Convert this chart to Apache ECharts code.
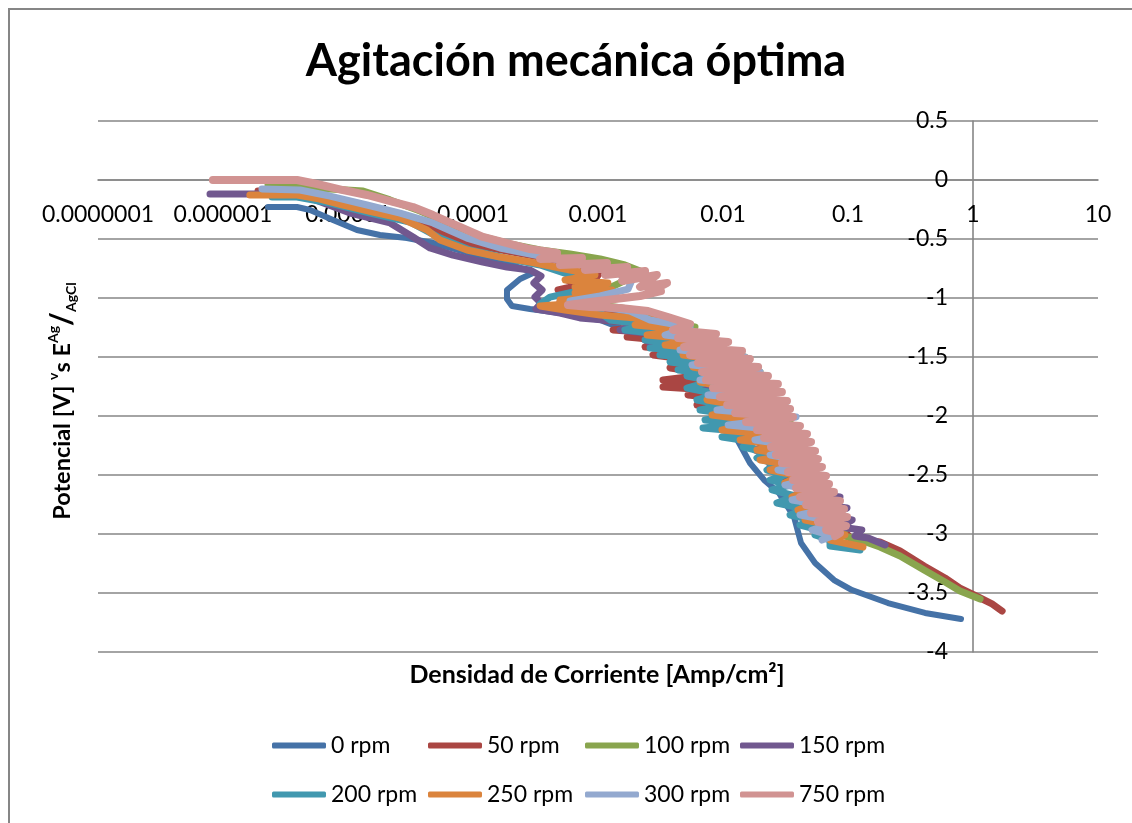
<!DOCTYPE html>
<html>
<head>
<meta charset="utf-8">
<title>Agitación mecánica óptima</title>
<script src="https://cdn.jsdelivr.net/npm/echarts@6/dist/echarts.min.js"></script>
<style>
  html, body { margin: 0; padding: 0; background: #ffffff; }
  #chart { width: 1132px; height: 823px; }
</style>
</head>
<body>
<div id="chart"></div>
<script>
// Polarization curves: [current density (A/cm²), potential (V vs Ag/AgCl)]
const seriesNames = ['0 rpm', '50 rpm', '100 rpm', '150 rpm', '200 rpm', '250 rpm', '300 rpm', '750 rpm'];

const rpm0 = [[2.29e-6,-0.229],[3.91e-6,-0.229],[4.97e-6,-0.254],[7.59e-6,-0.339],[1.18e-5,-0.424],[1.80e-5,-0.466],[2.96e-5,-0.492],[4.79e-5,-0.534],[8.63e-5,-0.610],[1.64e-4,-0.686],[2.70e-4,-0.763],[3.02e-4,-0.788],[2.38e-4,-0.839],[1.87e-4,-0.932],[1.87e-4,-1.008],[2.05e-4,-1.068],[2.86e-4,-1.093],[4.97e-4,-1.127],[1.04e-3,-1.186],[1.91e-3,-1.297],[3.13e-3,-1.441],[4.97e-3,-1.627],[7.31e-3,-1.839],[1.18e-2,-2.119],[1.644e-2,-2.398],[2.13e-2,-2.542],[2.81e-2,-2.653],[3.70e-2,-2.856],[4.21e-2,-3.076],[5.45e-2,-3.246],[7.73e-2,-3.390],[0.1076,-3.475],[0.209,-3.585],[0.413,-3.669],[0.802,-3.720]];

const rpm50 = [[1.905e-6,-0.093],[4.13e-6,-0.102],[7.87e-6,-0.153],[1.50e-5,-0.229],[2.86e-5,-0.314],[5.45e-5,-0.441],[9.46e-5,-0.542],[1.87e-4,-0.602],[3.77e-4,-0.661],[7.18e-4,-0.720],[1.04e-3,-0.780],[9.46e-4,-0.847],[5.65e-4,-0.847],[7.18e-4,-0.890],[4.79e-4,-0.932],[6.55e-4,-0.975],[4.97e-4,-1.034],[6.55e-4,-1.085],
  [8.63e-4,-1.119],[2.17e-3,-1.153],[1.10e-3,-1.186],[3.13e-3,-1.229],[1.32e-3,-1.271],[3.77e-3,-1.305],[1.71e-3,-1.331],[4.53e-3,-1.373],[2.38e-3,-1.415],[5.45e-3,-1.449],[2.75e-3,-1.483],[6.55e-3,-1.534],[3.77e-3,-1.593],[8.17e-3,-1.644],[3.31e-3,-1.695],[9.46e-3,-1.720],[3.31e-3,-1.754],[1.04e-2,-1.788],[5.25e-3,-1.822],[1.25e-2,-1.864],[6.19e-3,-1.907],[1.50e-2,-1.966],[8.63e-3,-2.034],[1.98e-2,-2.093],[1.25e-2,-2.161],[2.61e-2,-2.220],[1.80e-2,-2.288],[3.44e-2,-2.347],[2.38e-2,-2.415],[4.13e-2,-2.475],[3.13e-2,-2.542],[5.45e-2,-2.602],[3.77e-2,-2.669],[6.55e-2,-2.729],[4.97e-2,-2.797],[7.87e-2,-2.856],[6.55e-2,-2.924],[9.46e-2,-2.975],[0.104,-3.034],[0.150,-3.059],
  [0.180,-3.068],[0.261,-3.144],[0.406,-3.271],[0.597,-3.373],[0.787,-3.458],[1.10,-3.534],[1.42,-3.593],[1.71,-3.653]];

const rpm100 = [[2.29e-6,-0.042],[3.91e-6,-0.051],[7.18e-6,-0.076],[1.32e-5,-0.093],[2.17e-5,-0.169],[3.77e-5,-0.263],[6.55e-5,-0.373],[1.14e-4,-0.475],[1.98e-4,-0.542],[3.44e-4,-0.593],[5.97e-4,-0.627],[1.04e-3,-0.669],[1.64e-3,-0.720],[2.17e-3,-0.771],[1.56e-3,-0.864],[1.14e-3,-0.932],[7.18e-4,-1.000],[1.04e-3,-1.059],[2.61e-3,-1.119],
  [2.61e-3,-1.186],[5.97e-3,-1.246],[3.77e-3,-1.314],[9.46e-3,-1.373],[4.97e-3,-1.441],[1.50e-2,-1.500],[5.97e-3,-1.568],[1.98e-2,-1.627],[7.18e-3,-1.695],[2.61e-2,-1.771],[8.63e-3,-1.847],[3.13e-2,-1.915],[1.14e-2,-1.992],[3.44e-2,-2.051],[1.64e-2,-2.119],[4.13e-2,-2.178],[2.17e-2,-2.246],[4.79e-2,-2.305],[2.75e-2,-2.373],[5.45e-2,-2.432],[3.44e-2,-2.500],[6.19e-2,-2.559],[4.13e-2,-2.627],[7.18e-2,-2.686],[4.79e-2,-2.754],[8.63e-2,-2.814],[5.97e-2,-2.881],[0.100,-2.941],[8.63e-2,-3.008],[0.125,-3.051],
  [0.180,-3.110],[0.261,-3.186],[0.406,-3.305],[0.597,-3.407],[0.787,-3.483],[1.14,-3.551]];

const rpm150 = [[7.87e-7,-0.119],[3.25e-6,-0.119],[4.97e-6,-0.153],[1.04e-5,-0.280],[2.17e-5,-0.364],[3.31e-5,-0.483],[4.53e-5,-0.576],[6.92e-5,-0.636],[1.20e-4,-0.695],[1.87e-4,-0.737],[2.86e-4,-0.763],[3.50e-4,-0.814],[3.07e-4,-0.873],[3.57e-4,-0.932],[3.13e-4,-0.992],[3.50e-4,-1.042],[3.19e-4,-1.093],[4.97e-4,-1.127],
  [7.18e-4,-1.169],[2.17e-3,-1.212],[1.50e-3,-1.271],[4.53e-3,-1.331],[2.61e-3,-1.398],[6.55e-3,-1.458],[4.53e-3,-1.525],[9.46e-3,-1.585],[5.97e-3,-1.653],[1.37e-2,-1.712],[7.18e-3,-1.780],[1.98e-2,-1.839],[8.63e-3,-1.907],[2.61e-2,-1.966],[1.14e-2,-2.034],[3.13e-2,-2.093],[1.50e-2,-2.161],[3.77e-2,-2.220],[1.98e-2,-2.288],[4.53e-2,-2.347],[2.61e-2,-2.415],[5.45e-2,-2.475],[3.44e-2,-2.542],[6.92e-2,-2.585],[4.13e-2,-2.644],[8.63e-2,-2.686],[4.97e-2,-2.737],[9.82e-2,-2.780],[6.55e-2,-2.839],[0.108,-2.881],[8.63e-2,-2.941],[0.129,-2.966],[0.114,-3.017],[0.145,-3.034],[0.198,-3.093]];

const rpm200 = [[2.47e-6,-0.144],[3.91e-6,-0.144],[7.18e-6,-0.195],[1.50e-5,-0.280],[3.13e-5,-0.356],[5.45e-5,-0.492],[9.46e-5,-0.593],[1.80e-4,-0.661],[3.44e-4,-0.720],[5.97e-4,-0.805],[8.63e-4,-0.881],[6.92e-4,-0.941],[4.13e-4,-0.992],[3.44e-4,-1.051],[4.97e-4,-1.085],[1.04e-3,-1.127],
  [1.25e-3,-1.186],[2.61e-3,-1.229],[1.64e-3,-1.271],[3.77e-3,-1.314],[2.38e-3,-1.356],[4.53e-3,-1.390],[2.61e-3,-1.424],[5.45e-3,-1.449],[3.13e-3,-1.483],[5.97e-3,-1.508],[3.77e-3,-1.542],[6.55e-3,-1.576],[4.37e-3,-1.610],[7.18e-3,-1.636],[5.15e-3,-1.661],[8.17e-3,-1.703],[5.15e-3,-1.763],[9.12e-3,-1.814],[6.19e-3,-1.864],[1.04e-2,-1.907],[6.55e-3,-1.949],[1.25e-2,-1.992],[7.18e-3,-2.034],[1.50e-2,-2.068],[6.92e-3,-2.102],[1.585e-2,-2.136],[9.82e-3,-2.178],[1.80e-2,-2.220],[1.45e-2,-2.263],[2.17e-2,-2.305],[1.87e-2,-2.356],[2.61e-2,-2.407],[2.25e-2,-2.458],[3.13e-2,-2.500],[2.38e-2,-2.542],[3.44e-2,-2.585],[2.47e-2,-2.627],[3.77e-2,-2.678],[2.70e-2,-2.737],[4.53e-2,-2.788],[3.44e-2,-2.839],[5.15e-2,-2.881],[4.13e-2,-2.924],[5.97e-2,-2.966],[5.45e-2,-3.008],[7.18e-2,-3.051],[7.18e-2,-3.102],[0.125,-3.136]];

const rpm250 = [[1.64e-6,-0.127],[3.91e-6,-0.127],[5.97e-6,-0.161],[9.12e-6,-0.212],[1.585e-5,-0.271],[2.61e-5,-0.322],[4.29e-5,-0.424],[5.45e-5,-0.508],[8.95e-5,-0.593],[1.64e-4,-0.653],[2.86e-4,-0.695],[4.97e-4,-0.746],[9.46e-4,-0.805],[5.45e-4,-0.847],[1.20e-3,-0.873],[6.55e-4,-0.907],[1.29e-3,-0.932],[6.55e-4,-0.958],[1.04e-3,-0.983],[4.97e-4,-1.017],[7.18e-4,-1.042],[3.44e-4,-1.068],[5.45e-4,-1.102],
  [1.04e-3,-1.144],[3.13e-3,-1.186],[1.98e-3,-1.229],[5.45e-3,-1.271],[2.47e-3,-1.314],[6.55e-3,-1.356],[3.44e-3,-1.398],[8.63e-3,-1.441],[4.79e-3,-1.483],[1.04e-2,-1.534],[5.75e-3,-1.585],[1.25e-2,-1.653],[6.55e-3,-1.712],[1.50e-2,-1.788],[7.45e-3,-1.864],[1.80e-2,-1.932],[8.17e-3,-1.992],[2.17e-2,-2.051],[9.82e-3,-2.119],[2.61e-2,-2.161],[1.37e-2,-2.203],[2.96e-2,-2.246],[1.87e-2,-2.288],[3.44e-2,-2.331],[1.98e-2,-2.373],[3.77e-2,-2.415],[2.38e-2,-2.458],[4.13e-2,-2.508],[3.13e-2,-2.568],[4.79e-2,-2.627],[3.57e-2,-2.686],[5.45e-2,-2.737],[3.98e-2,-2.797],[6.19e-2,-2.839],[4.53e-2,-2.881],[7.18e-2,-2.924],[5.45e-2,-2.966],[9.46e-2,-3.008],[7.18e-2,-3.051],[0.1318,-3.110]];

const rpm300 = [[2.05e-6,-0.076],[4.13e-6,-0.085],[7.18e-6,-0.136],[1.42e-5,-0.212],[2.61e-5,-0.280],[4.79e-5,-0.364],[8.95e-5,-0.492],[1.64e-4,-0.576],[3.44e-4,-0.644],[7.18e-4,-0.712],[1.37e-3,-0.780],[1.87e-3,-0.847],[1.74e-3,-0.924],[1.04e-3,-0.983],[5.97e-4,-1.025],[9.46e-4,-1.068],[1.80e-3,-1.110],
  [2.61e-3,-1.186],[5.45e-3,-1.246],[3.44e-3,-1.314],[1.04e-2,-1.373],[4.53e-3,-1.441],[1.50e-2,-1.500],[5.65e-3,-1.568],[1.98e-2,-1.627],[6.55e-3,-1.695],[2.61e-2,-1.754],[7.59e-3,-1.822],[3.19e-2,-1.881],[8.95e-3,-1.949],[3.84e-2,-2.008],[1.10e-2,-2.076],[4.06e-2,-2.136],[1.80e-2,-2.203],[4.45e-2,-2.263],[2.38e-2,-2.331],[5.15e-2,-2.390],[2.75e-2,-2.458],[5.75e-2,-2.517],[3.13e-2,-2.585],[6.67e-2,-2.644],[3.57e-2,-2.712],[7.87e-2,-2.771],[4.13e-2,-2.839],[8.32e-2,-2.898],[5.15e-2,-2.966],[7.45e-2,-3.017],[6.19e-2,-3.051]];

const rpm750 = [[8.3e-7,0],[3.91e-6,0],[5.65e-6,-0.034],[9.12e-6,-0.085],[1.42e-5,-0.127],[2.29e-5,-0.186],[3.31e-5,-0.229],[4.79e-5,-0.297],[7.87e-5,-0.398],[1.20e-4,-0.483],[1.87e-4,-0.534],[2.86e-4,-0.585],[4.70e-4,-0.619],[3.44e-4,-0.669],[7.45e-4,-0.661],[4.97e-4,-0.720],[1.18e-3,-0.703],[7.87e-4,-0.763],[1.71e-3,-0.737],[1.14e-3,-0.805],[2.38e-3,-0.771],[1.56e-3,-0.856],[2.96e-3,-0.805],[2.17e-3,-0.907],[3.57e-3,-0.873],[2.51e-3,-0.958],[3.19e-3,-0.941],[2.17e-3,-0.983],[1.37e-3,-1.008],[8.63e-4,-1.034],[5.75e-4,-1.059],[8.63e-4,-1.076],[1.50e-3,-1.085],[2.51e-3,-1.110],[3.63e-3,-1.161],[5.45e-3,-1.220],
  [3.98e-3,-1.271],[8.79e-3,-1.305],[4.37e-3,-1.339],[1.10e-2,-1.373],[4.88e-3,-1.415],[1.42e-2,-1.449],[5.45e-3,-1.483],[1.64e-2,-1.517],[6.31e-3,-1.551],[1.91e-2,-1.585],[6.79e-3,-1.627],[2.29e-2,-1.661],[7.31e-3,-1.695],[2.75e-2,-1.729],[8.32e-3,-1.763],[2.96e-2,-1.797],[9.46e-3,-1.839],[3.25e-2,-1.873],[1.08e-2,-1.907],[3.44e-2,-1.941],[1.25e-2,-1.975],[3.63e-2,-2.008],[1.53e-2,-2.051],[4.13e-2,-2.085],[1.87e-2,-2.119],[4.70e-2,-2.153],[2.13e-2,-2.186],[5.06e-2,-2.220],[2.42e-2,-2.263],[5.45e-2,-2.297],[2.65e-2,-2.331],[5.75e-2,-2.364],[2.96e-2,-2.398],[6.19e-2,-2.432],[3.31e-2,-2.475],[6.67e-2,-2.508],[3.63e-2,-2.542],[7.05e-2,-2.576],[3.84e-2,-2.610],[7.72e-2,-2.644],[4.13e-2,-2.686],[8.63e-2,-2.720],[4.62e-2,-2.754],[9.29e-2,-2.788],[5.06e-2,-2.822],[9.82e-2,-2.856],[5.75e-2,-2.898],[9.64e-2,-2.932],[6.67e-2,-2.966],[8.63e-2,-2.992],[7.87e-2,-3.017]];

const curves = [rpm0, rpm50, rpm100, rpm150, rpm200, rpm250, rpm300, rpm750];

// Office 2007 style series colours and stroke widths
const palette = ['#4572A7', '#AA4643', '#89A54E', '#71588F', '#4198AF', '#DB843D', '#93A9CF', '#D19392'];
const strokeWidths = [6, 7, 7, 7, 7, 7, 7, 8];

const FONT = 'Lato, "Open Sans", "DejaVu Sans", sans-serif';
const GRID_COLOR = '#868686';

// legend cells: two rows of four
const legendCells = [[272, 734], [428, 734], [585, 734], [740, 734],
                     [272, 783], [428, 783], [585, 783], [740, 783]];

function formatCurrent(v) {
  const e = Math.round(Math.log10(v));
  return e < 0 ? v.toFixed(-e) : String(Math.round(v));
}

const chart = echarts.init(document.getElementById('chart'), null, { renderer: 'canvas' });

chart.setOption({
  animation: false,
  backgroundColor: '#ffffff',
  title: {
    text: 'Agitación mecánica óptima',
    left: 571,
    top: 34,
    textAlign: 'center',
    textStyle: { fontFamily: FONT, fontWeight: 'bold', fontSize: 45, color: '#000000' }
  },
  grid: { left: 98, right: 34, top: 121, bottom: 171, containLabel: false },
  xAxis: {
    type: 'log',
    logBase: 10,
    min: 1e-7,
    max: 10,
    splitNumber: 8,
    position: 'bottom',
    offset: -472,          // horizontal axis crosses the potential axis at 0 V
    axisLine: { show: true, onZero: false, lineStyle: { color: GRID_COLOR, width: 1.6 } },
    axisTick: { show: false },
    splitLine: { show: false },
    axisLabel: {
      margin: 23,
      fontFamily: FONT,
      fontSize: 23,
      color: '#000000',
      formatter: formatCurrent
    }
  },
  yAxis: {
    type: 'value',
    min: -4,
    max: 0.5,
    interval: 0.5,
    position: 'left',
    offset: -875,          // vertical axis crosses the current axis at 1 A/cm²
    axisLine: { show: true, onZero: false, lineStyle: { color: GRID_COLOR, width: 1.6 } },
    axisTick: { show: false },
    splitLine: { show: true, lineStyle: { color: GRID_COLOR, width: 1.6 } },
    axisLabel: { margin: 25, fontFamily: FONT, fontSize: 23, color: '#000000' }
  },
  legend: seriesNames.map((name, i) => ({
    data: [name],
    left: legendCells[i][0],
    top: legendCells[i][1],
    padding: 0,
    itemWidth: 54,
    itemHeight: 6,
    icon: 'roundRect',
    selectedMode: false,
    textStyle: { fontFamily: FONT, fontSize: 23, color: '#000000' }
  })),
  series: curves.map((data, i) => ({
    name: seriesNames[i],
    type: 'line',
    data: data,
    showSymbol: false,
    symbol: 'none',
    clip: true,
    lineStyle: { width: strokeWidths[i], color: palette[i], cap: 'round', join: 'round' },
    itemStyle: { color: palette[i] },
    emphasis: { disabled: true }
  })),
  graphic: [
    {
      type: 'rect',
      silent: true,
      shape: { x: 9, y: 9, width: 1300, height: 1000 },
      style: { fill: 'none', stroke: GRID_COLOR, lineWidth: 2 },
      z: 100
    },
    {
      type: 'text',
      x: 597,
      y: 675,
      style: {
        text: 'Densidad de Corriente [Amp/cm²]',
        fontFamily: FONT,
        fontWeight: 'bold',
        fontSize: 25,
        fill: '#000000',
        align: 'center',
        verticalAlign: 'middle'
      }
    },
    {
      type: 'text',
      x: 62,
      y: 401,
      rotation: Math.PI / 2,
      style: {
        text: 'Potencial [V] {sup|v}s E{sup|Ag}{sl|/}{sub|AgCl}',
        fontFamily: FONT,
        fontWeight: 'bold',
        fontSize: 23.5,
        fill: '#000000',
        align: 'center',
        verticalAlign: 'middle',
        rich: {
          sup: { fontFamily: FONT, fontWeight: 'bold', fontSize: 14, verticalAlign: 'top', lineHeight: 32 },
          sub: { fontFamily: FONT, fontWeight: 'bold', fontSize: 14, verticalAlign: 'bottom', lineHeight: 32 },
          sl: { fontFamily: FONT, fontWeight: 'bold', fontSize: 30, lineHeight: 32 }
        }
      }
    }
  ]
});
</script>
</body>
</html>
